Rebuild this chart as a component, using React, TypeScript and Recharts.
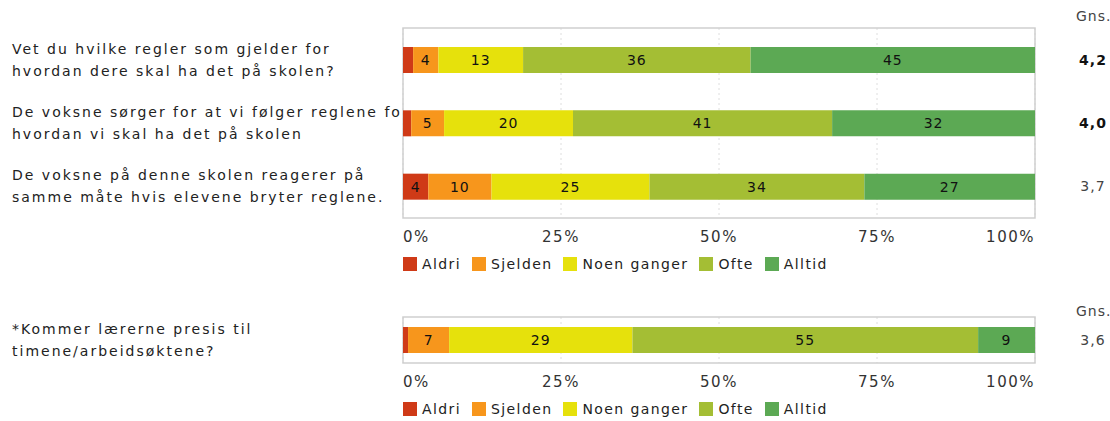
import { BarChart, Bar, XAxis, YAxis, CartesianGrid, ReferenceArea, LabelList } from 'recharts'

const FONT = '"DejaVu Sans", Verdana, sans-serif'

const SERIES = ['Aldri', 'Sjelden', 'Noen ganger', 'Ofte', 'Alltid']

const COLORS: Record<string, string> = {
    'Aldri': '#cf3a17',
    'Sjelden': '#f7961c',
    'Noen ganger': '#e6e10c',
    'Ofte': '#a4be34',
    'Alltid': '#5ca954',
}

const topLabels = [
    ['Vet du hvilke regler som gjelder for', 'hvordan dere skal ha det på skolen?'],
    ['De voksne sørger for at vi følger reglene for', 'hvordan vi skal ha det på skolen'],
    ['De voksne på denne skolen reagerer på', 'samme måte hvis elevene bryter reglene.'],
]
const topAldri = [1.6, 1.3, 4]
const topSjelden = [4, 5.2, 10]
const topNoen = [13.4, 20.4, 25]
const topOfte = [36, 41, 34]
const topAlltid = [45, 32.1, 27]
const topGns = ['4,2', '4,0', '3,7']

const bottomLabels = [
    ['*Kommer lærerne presis til', 'timene/arbeidsøktene?'],
]
const bottomAldri = [0.8]
const bottomSjelden = [6.5]
const bottomNoen = [29]
const bottomOfte = [54.7]
const bottomAlltid = [9]
const bottomGns = ['3,6']

const ticks = [0, 25, 50, 75, 100]

function buildRows(labels: string[][], cols: number[][], gns: string[]) {
    return labels.map((l, i) => {
        const row: any = { id: String(i), lines: l, gns: gns[i] }
        SERIES.forEach((s, j) => { row[s] = cols[j][i] })
        return row
    })
}

const topData = buildRows(topLabels, [topAldri, topSjelden, topNoen, topOfte, topAlltid], topGns)
const bottomData = buildRows(bottomLabels, [bottomAldri, bottomSjelden, bottomNoen, bottomOfte, bottomAlltid], bottomGns)

function LeftTick(props: any, data: any[], key: string) {
    const { y, payload } = props
    const row = data[Number(payload.value)]
    const id = `clip-${key}-${payload.value}`
    return (
        <g>
            <defs>
                <clipPath id={id}>
                    <rect x={0} y={y - 40} width={400} height={80} />
                </clipPath>
            </defs>
            <text clipPath={`url(#${id})`} fontSize={14} letterSpacing={2} fill="#222" fontFamily={FONT}>
                <tspan x={12} y={y - 6}>{row.lines[0]}</tspan>
                <tspan x={12} y={y + 16}>{row.lines[1]}</tspan>
            </text>
        </g>
    )
}

function RightTick(props: any, data: any[]) {
    const { y, payload } = props
    const row = data[Number(payload.value)]
    const bold = parseFloat(row.gns.replace(',', '.')) >= 4
    return (
        <text x={1093} y={y + 5} textAnchor="middle" fontSize={14} letterSpacing={1} fontFamily={FONT}
            fontWeight={bold ? 'bold' : 'normal'} fill={bold ? '#111' : '#444'}>
            {row.gns}
        </text>
    )
}

function BottomTick(props: any) {
    const { x, y, payload } = props
    const anchor = payload.value === 0 ? 'start' : payload.value === 100 ? 'end' : 'middle'
    return (
        <text x={x} y={y + 16} textAnchor={anchor} fontSize={15} letterSpacing={1.5} fill="#333" fontFamily={FONT}>
            {payload.value}%
        </text>
    )
}

function renderValue(props: any) {
    const { x, y, width, height, value } = props
    if (value < 3) return null
    return (
        <text x={x + width / 2} y={y + height / 2 + 5} textAnchor="middle" fontSize={14} letterSpacing={1}
            fill="#111" fontFamily={FONT}>
            {Math.round(value)}
        </text>
    )
}

function Legend() {
    return (
        <div style={{ display: 'flex', alignItems: 'center', fontFamily: FONT, fontSize: 14, letterSpacing: 1.4, color: '#222' }}>
            {SERIES.map(s => (
                <div key={s} style={{ display: 'flex', alignItems: 'center', marginRight: 11 }}>
                    <div style={{ width: 14, height: 14, background: COLORS[s], marginRight: 5 }}></div>
                    <span>{s}</span>
                </div>
            ))}
        </div>
    )
}

function Block({ data, top, plotH, name, gnsTop }: { data: any[], top: number, plotH: number, name: string, gnsTop: number }) {
    const marginTop = 27
    const axisH = 32
    return (
        <>
            <div style={{ position: 'absolute', left: 0, top }}>
                <BarChart width={1110} height={marginTop + plotH + axisH} data={data} layout="vertical"
                    margin={{ top: marginTop, right: 0, bottom: 0, left: 0 }} barSize={26}>
                    <CartesianGrid horizontal={false} strokeDasharray="2 3" stroke="#dedede" />
                    <XAxis type="number" domain={[0, 100]} ticks={ticks} axisLine={false} tickLine={false}
                        height={axisH} tick={BottomTick} interval={0} />
                    <YAxis yAxisId="left" type="category" dataKey="id" width={403} axisLine={false} tickLine={false}
                        tick={(p: any) => LeftTick(p, data, name)} />
                    <YAxis yAxisId="right" orientation="right" type="category" dataKey="id" width={75}
                        axisLine={false} tickLine={false} tick={(p: any) => RightTick(p, data)} />
                    <ReferenceArea yAxisId="left" x1={0} x2={100} fill="none" stroke="#cfcfcf" strokeWidth={1.5} />
                    {SERIES.map(s => (
                        <Bar key={s} yAxisId="left" dataKey={s} stackId="a" fill={COLORS[s]} isAnimationActive={false}>
                            <LabelList dataKey={s} content={renderValue} />
                        </Bar>
                    ))}
                </BarChart>
            </div>
            <div style={{ position: 'absolute', left: 1076, top: gnsTop, fontFamily: FONT, fontSize: 14, letterSpacing: 1, color: '#444' }}>
                Gns.
            </div>
            <div style={{ position: 'absolute', left: 403, top: top + marginTop + plotH + 38 }}>
                <Legend />
            </div>
        </>
    )
}

export default function App() {
    return (
        <div style={{ position: 'absolute', left: 0, top: 0, width: 1110, height: 421, background: '#fff', overflow: 'hidden' }}>
            <Block data={topData} top={1} plotH={190} name="top" gnsTop={8} />
            <Block data={bottomData} top={290} plotH={46} name="bottom" gnsTop={303} />
        </div>
    )
}
